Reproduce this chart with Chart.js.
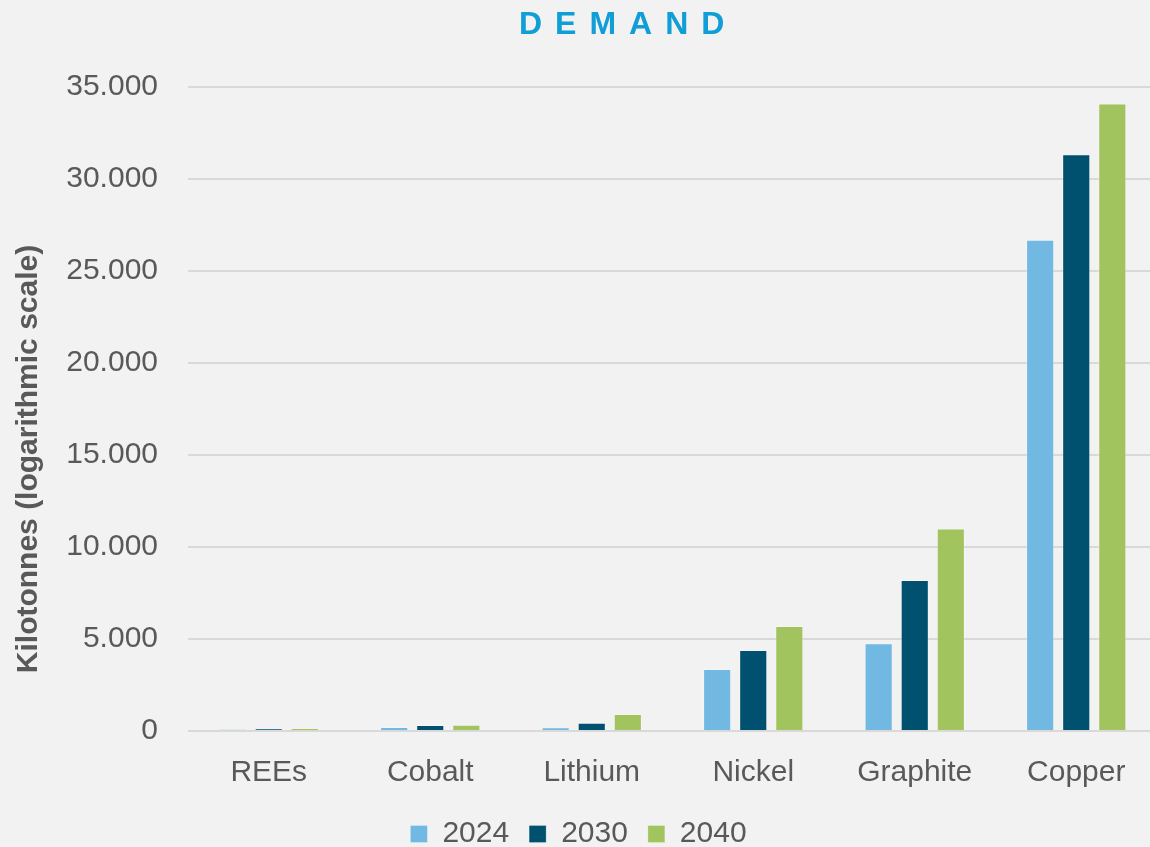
<!DOCTYPE html>
<html lang="en">
<head>
  <meta charset="UTF-8" />
  <title>Demand</title>
  <script src="https://cdn.jsdelivr.net/npm/chart.js"></script>
  <style>
    body {
      margin: 0;
      background: #f2f2f2;
      overflow: hidden;
    }
    .chart-container {
      position: relative;
      width: 1157px;
      height: 847px;
    }
  </style>
</head>
<body>
  <div class="chart-container">
    <canvas id="demand"></canvas>
  </div>
  <script>
    // Values (kilotonnes)
    const categories = ['REEs', 'Cobalt', 'Lithium', 'Nickel', 'Graphite', 'Copper'];
    const seriesLabels = ['2024', '2030', '2040'];
    const demand2024 = [90, 215, 200, 3370, 4770, 26700];
    const demand2030 = [130, 330, 455, 4400, 8200, 31350];
    const demand2040 = [150, 340, 925, 5700, 11000, 34100];
    const yTickValues = [0, 5000, 10000, 15000, 20000, 25000, 30000, 35000];

    const chartTitle = 'DEMAND';
    const yAxisTitle = 'Kilotonnes (logarithmic scale)';

    const seriesColors = ['#71b8e2', '#00506f', '#a2c45e'];
    const textColor = '#595959';
    const fontFamily = '"Liberation Sans", Arial, sans-serif';

    // thousands separator with a dot, like the original
    const fmt = v => String(v).replace(/\B(?=(\d{3})+(?!\d))/g, '.');

    // Spaced-out title and the y-axis title are drawn by hand
    const extraText = {
      id: 'extraText',
      afterDraw(chart) {
        const ctx = chart.ctx;
        ctx.save();
        ctx.fillStyle = '#0f9ed5';
        ctx.font = 'bold 32px ' + fontFamily;
        ctx.letterSpacing = '13px';
        ctx.textAlign = 'left';
        ctx.textBaseline = 'alphabetic';
        ctx.fillText(chartTitle, 519, 34);
        ctx.restore();

        ctx.save();
        ctx.fillStyle = textColor;
        ctx.font = 'bold 30px ' + fontFamily;
        ctx.textAlign = 'center';
        ctx.textBaseline = 'middle';
        ctx.translate(29, 459);
        ctx.rotate(-Math.PI / 2);
        ctx.fillText(yAxisTitle, 0, 0);
        ctx.restore();
      }
    };

    const datasets = [demand2024, demand2030, demand2040].map((data, i) => ({
      label: seriesLabels[i],
      data: data,
      backgroundColor: seriesColors[i],
      borderColor: 'rgba(255, 255, 255, 0.25)',
      borderWidth: 1,
      barPercentage: 0.78,
      categoryPercentage: 0.67
    }));

    new Chart(document.getElementById('demand'), {
      type: 'bar',
      data: {
        labels: categories,
        datasets: datasets
      },
      plugins: [extraText],
      options: {
        responsive: true,
        maintainAspectRatio: false,
        animation: false,
        layout: {
          padding: { top: 87, left: 0, right: 0, bottom: -12 }
        },
        scales: {
          x: {
            grid: { display: false },
            border: { display: false },
            afterFit: scale => {
              scale.height = 68;
            },
            ticks: {
              color: textColor,
              padding: 16,
              font: { family: fontFamily, size: 30 }
            }
          },
          y: {
            min: 0,
            max: 35000,
            afterBuildTicks: scale => {
              scale.ticks = yTickValues.map(v => ({ value: v }));
            },
            afterFit: scale => {
              scale.width = 188;
            },
            grid: {
              color: '#d9d9d9',
              lineWidth: 2,
              drawTicks: false
            },
            border: { display: false },
            ticks: {
              color: textColor,
              padding: 30,
              font: { family: fontFamily, size: 30 },
              callback: v => fmt(v)
            }
          }
        },
        plugins: {
          title: { display: false },
          tooltip: { enabled: false },
          legend: {
            position: 'bottom',
            labels: {
              color: textColor,
              boxWidth: 17,
              boxHeight: 17,
              padding: 20,
              font: { family: fontFamily, size: 30 }
            }
          }
        }
      }
    });
  </script>
</body>
</html>
